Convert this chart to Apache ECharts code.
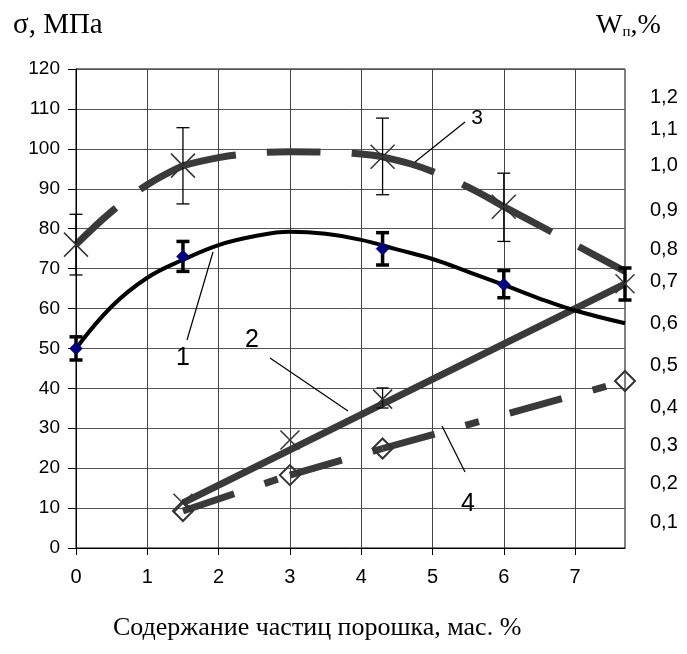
<!DOCTYPE html>
<html><head><meta charset="utf-8">
<script src="https://cdn.jsdelivr.net/npm/echarts@6/dist/echarts.min.js"></script>
<style>html,body{margin:0;padding:0;background:#fff}#c{width:687px;height:654px}</style>
</head><body><div id="c"></div>
<script>
// ---- data ----
const xTicks = [0, 1, 2, 3, 4, 5, 6, 7];
const wTickLabels = ['0,1','0,2','0,3','0,4','0,5','0,6','0,7','0,8','0,9','1,0','1,1','1,2'];
const wTickPos    = [0.100,0.201,0.300,0.398,0.507,0.616,0.723,0.806,0.909,1.026,1.117,1.200];

// curve 1: strength (MPa), points + error bars + trend
const s1X = [0, 1.5, 4.3, 6];
const s1Y = [50, 73, 75, 66];
const s1ErrLo = [47.1, 69.3, 70.9, 62.7];
const s1ErrHi = [52.9, 76.8, 79.0, 69.5];
const s1TrendX = [0, 0.5, 1, 1.5, 2, 2.5, 3, 3.5, 4, 4.5, 5, 5.5, 6, 6.5, 7, 7.7];
const s1TrendY = [50, 60.5, 67.7, 72.2, 75.9, 78.1, 79.2, 78.7, 77.2, 74.8, 72.4, 69.2, 65.9, 62.5, 59.5, 56.3];

// curve 3: strength (MPa), points + error bars + smoothed line
const s3X = [0, 1.5, 4.3, 6];
const s3Y = [76, 95.8, 98, 85.5];
const s3ErrLo = [68.4, 86.2, 88.5, 76.8];
const s3ErrHi = [83.6, 105.3, 107.7, 93.9];
const s3CurveX = [0, 0.5, 1, 1.5, 2, 2.5, 3, 3.5, 4, 4.3, 4.7, 5, 5.5, 6, 6.5, 7, 7.7];
const s3CurveY = [76, 84.3, 91, 95.8, 97.8, 98.9, 99.3, 99.2, 98.7, 98, 96.2, 94.3, 90.4, 85.5, 80.8, 76, 69.3];

// curve 2: W (%), points + linear trend
const s2X = [1.5, 3, 4.3, 7.7];
const s2W = [0.149, 0.313, 0.419, 0.718];
const s2TrendX = [1.5, 7.7];
const s2TrendW = [0.150, 0.718];
const s2ErrX = [4.3, 7.7];
const s2ErrLo = [0.396, 0.676];
const s2ErrHi = [0.448, 0.759];

// curve 4: W (%), points joined
const s4X = [1.5, 3, 4.3, 7.7];
const s4W = [0.129, 0.222, 0.291, 0.466];

// ---- helpers ----
const zip = (a, b) => a.map((v, i) => [v, b[i]]);
function splitSegments(cx, cy, breaks) {
  const segs = [];
  for (let k = 0; k < breaks.length - 1; k++) {
    const a = breaks[k], b = breaks[k + 1];
    const seg = [];
    cx.forEach((x, i) => { if (x >= a - 1e-9 && x <= b + 1e-9) seg.push([x, cy[i]]); });
    segs.push(seg);
  }
  return segs;
}
function errSeries(xs, lo, hi, yIdx, lw, cap) {
  return {
    type: 'custom', yAxisIndex: yIdx, z: 6,
    data: xs.map((x, i) => [x, lo[i], hi[i]]),
    encode: { x: 0, y: [1, 2] },
    renderItem: function (params, api) {
      const x = api.value(0);
      const p1 = api.coord([x, api.value(2)]);
      const p2 = api.coord([x, api.value(1)]);
      const st = { stroke: '#000', lineWidth: lw };
      return { type: 'group', children: [
        { type: 'line', shape: { x1: p1[0], y1: p1[1], x2: p2[0], y2: p2[1] }, style: st },
        { type: 'line', shape: { x1: p1[0] - cap / 2, y1: p1[1], x2: p1[0] + cap / 2, y2: p1[1] }, style: st },
        { type: 'line', shape: { x1: p2[0] - cap / 2, y1: p2[1], x2: p2[0] + cap / 2, y2: p2[1] }, style: st }
      ]};
    }
  };
}
function crossSeries(xs, ys, yIdx, size, lw) {
  return {
    type: 'custom', yAxisIndex: yIdx, z: 7,
    data: zip(xs, ys),
    renderItem: function (params, api) {
      const p = api.coord([api.value(0), api.value(1)]);
      const h = size / 2;
      const st = { stroke: '#333', lineWidth: lw };
      return { type: 'group', children: [
        { type: 'line', shape: { x1: p[0] - h, y1: p[1] - h, x2: p[0] + h, y2: p[1] + h }, style: st },
        { type: 'line', shape: { x1: p[0] - h, y1: p[1] + h, x2: p[0] + h, y2: p[1] - h }, style: st }
      ]};
    }
  };
}
function diamondSeries(xs, ys, yIdx, size, fill, stroke, lw) {
  return {
    type: 'custom', yAxisIndex: yIdx, z: 7,
    data: zip(xs, ys),
    renderItem: function (params, api) {
      const p = api.coord([api.value(0), api.value(1)]);
      const h = size / 2;
      return { type: 'polygon',
        shape: { points: [[p[0], p[1] - h], [p[0] + h, p[1]], [p[0], p[1] + h], [p[0] - h, p[1]]] },
        style: { fill: fill, stroke: stroke, lineWidth: lw } };
    }
  };
}

const s3Segs = splitSegments(s3CurveX, s3CurveY, [0, 1.5, 4.3, 6, 7.7]);
const s4Pts = zip(s4X, s4W);
const s4Segs = [];
for (let i = 0; i < s4Pts.length - 1; i++) s4Segs.push([s4Pts[i], s4Pts[i + 1]]);

const series = [];
series.push({ type: 'line', yAxisIndex: 1, data: zip(s2TrendX, s2TrendW), showSymbol: false,
  lineStyle: { color: '#3a3a3a', width: 7 }, z: 3, silent: true });
s4Segs.forEach(seg => series.push({ type: 'line', yAxisIndex: 1, data: seg, showSymbol: false,
  lineStyle: { color: '#3a3a3a', width: 7, type: [54, 32, 14, 32], cap: 'butt' }, z: 3, silent: true }));
s3Segs.forEach(seg => series.push({ type: 'line', yAxisIndex: 0, data: seg, showSymbol: false, smooth: 0.4,
  lineStyle: { color: '#3a3a3a', width: 7, type: [54, 31], cap: 'butt' }, z: 3, silent: true }));
series.push({ type: 'line', yAxisIndex: 0, data: zip(s1TrendX, s1TrendY), showSymbol: false, smooth: 0.4,
  lineStyle: { color: '#000', width: 4 }, z: 4, silent: true });
series.push(errSeries(s3X, s3ErrLo, s3ErrHi, 0, 1.3, 13));
series.push(errSeries(s1X, s1ErrLo, s1ErrHi, 0, 3.5, 13));
series.push(errSeries([s2ErrX[0]], [s2ErrLo[0]], [s2ErrHi[0]], 1, 1.3, 12));
series.push(errSeries([s2ErrX[1]], [s2ErrLo[1]], [s2ErrHi[1]], 1, 3.5, 13));
series.push(crossSeries(s3X, s3Y, 0, 24, 1.5));
series.push(crossSeries(s2X, s2W, 1, 19, 1.5));
series.push(diamondSeries(s4X, s4W, 1, 20, 'none', '#333', 2));
series.push(diamondSeries(s1X, s1Y, 0, 13, '#000080', '#000080', 0.5));

const chart = echarts.init(document.getElementById('c'), null, { renderer: 'canvas' });
const sans = 'Liberation Sans, Arial, sans-serif';
const serif = 'Liberation Serif, Times New Roman, serif';

const annotations = [
  { t: '1', x: 183, y: 358, fs: 25, line: [187, 340, 213, 252] },
  { t: '2', x: 252, y: 340, fs: 25, line: [270, 358, 348, 411] },
  { t: '3', x: 477, y: 118, fs: 21, line: [465, 122, 415, 162] },
  { t: '4', x: 468, y: 504, fs: 25, line: [465, 472, 442, 426] }
];
const graphic = [];
annotations.forEach(a => {
  graphic.push({ type: 'text', x: a.x, y: a.y, z: 20,
    style: { text: a.t, font: a.fs + 'px ' + sans, fill: '#000', align: 'center', verticalAlign: 'middle' } });
  graphic.push({ type: 'line', z: 20, shape: { x1: a.line[0], y1: a.line[1], x2: a.line[2], y2: a.line[3] },
    style: { stroke: '#000', lineWidth: 1.2 } });
});
graphic.push({ type: 'text', x: 13, y: 40, style: { text: 'σ, МПа', font: '29px ' + serif, fill: '#000', verticalAlign: 'bottom' } });
graphic.push({ type: 'text', x: 596, y: 40, style: {
  text: '{a|W}{b|п}{a|,%}', verticalAlign: 'bottom',
  rich: { a: { fontFamily: serif, fontSize: 28, color: '#000' },
          b: { fontFamily: serif, fontSize: 15, color: '#000', padding: [13, 0, 0, 0] } } } });
graphic.push({ type: 'text', x: 113, y: 628, style: { text: 'Содержание частиц порошка, мас. %',
  font: '26px ' + serif, fill: '#000', verticalAlign: 'middle' } });

chart.setOption({
  animation: false,
  backgroundColor: '#fff',
  grid: { left: 76, top: 69, right: 62, bottom: 106, show: true, borderColor: '#000', borderWidth: 1, containLabel: false },
  xAxis: {
    type: 'value', min: 0, max: 7.7, interval: 1,
    axisLine: { show: true, onZero: false, lineStyle: { color: '#000', width: 1 } },
    axisTick: { show: true, inside: false, length: 7, lineStyle: { color: '#000' }, customValues: xTicks },
    axisLabel: { color: '#000', fontFamily: sans, fontSize: 20, margin: 19, customValues: xTicks },
    splitLine: { show: true, lineStyle: { color: '#444', width: 1 } }
  },
  yAxis: [{
    type: 'value', min: 0, max: 120, interval: 10, position: 'left',
    axisLine: { show: true, lineStyle: { color: '#000', width: 1 } },
    axisTick: { show: true, inside: false, length: 8, lineStyle: { color: '#000' } },
    axisLabel: { color: '#000', fontFamily: sans, fontSize: 19, margin: 16 },
    splitLine: { show: true, lineStyle: { color: '#555', width: 1 } }
  }, {
    type: 'value', min: 0.033, max: 1.275, position: 'right',
    axisLine: { show: false }, axisTick: { show: false }, splitLine: { show: false },
    axisLabel: { color: '#000', fontFamily: sans, fontSize: 20, margin: 25, customValues: wTickPos,
      formatter: function (v) {
        let best = 0, d = Infinity;
        wTickPos.forEach((p, i) => { if (Math.abs(p - v) < d) { d = Math.abs(p - v); best = i; } });
        return wTickLabels[best];
      } }
  }],
  graphic: graphic,
  series: series
});
</script></body></html>
